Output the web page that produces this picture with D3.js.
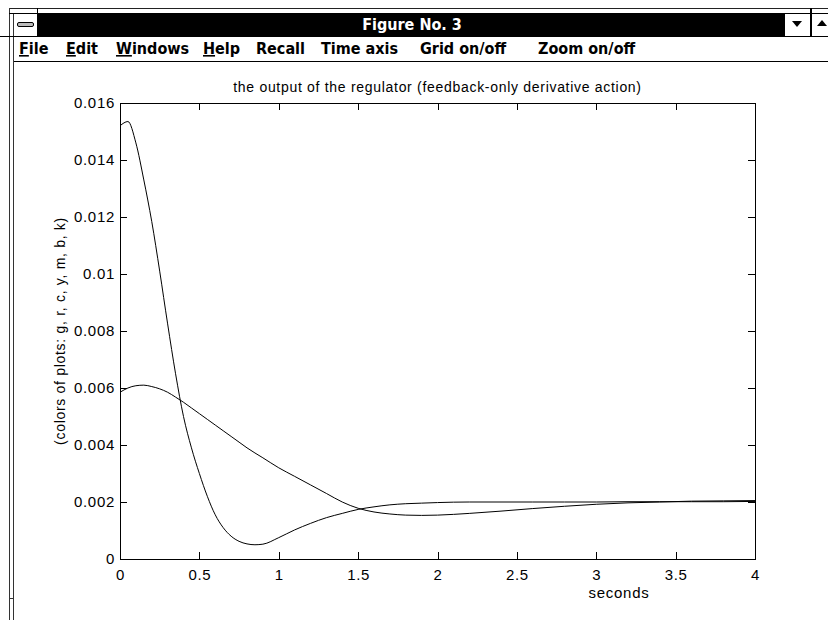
<!DOCTYPE html>
<html>
<head>
<meta charset="utf-8">
<script src="https://cdn.jsdelivr.net/npm/d3@7"></script>
<style>
  body { margin: 0; background: #fff; }
  svg { display: block; }
  .chrome-text { font-family: "Liberation Sans Narrow", "DejaVu Sans Condensed", sans-serif; font-weight: bold; }
  .plot-text { font-family: "Liberation Sans", Arial, sans-serif; fill: #000; letter-spacing: 0.7px; }
</style>
</head>
<body>
<svg id="fig" width="828" height="620"></svg>
<script>
// Regulator output: time axis (seconds) and two responses
const timeSec = [0, 0.05, 0.1, 0.15, 0.2, 0.25, 0.3, 0.35, 0.4, 0.45, 0.5, 0.55, 0.6, 0.65, 0.7, 0.75, 0.8, 0.85, 0.9, 1.0, 1.1, 1.2, 1.3, 1.4, 1.5, 1.6, 1.7, 1.8, 1.9, 2.0, 2.2, 2.4, 2.6, 2.8, 3.0, 3.2, 3.4, 3.6, 3.8, 4.0];
const fastOutput = [0.0152, 0.01535, 0.0146, 0.0133, 0.01184, 0.0101, 0.00825, 0.0065, 0.0050, 0.0039, 0.0030, 0.0022, 0.00155, 0.0011, 0.0008, 0.00062, 0.00053, 0.0005, 0.00052, 0.00075, 0.00102, 0.00125, 0.00145, 0.0016, 0.00174, 0.00183, 0.0019, 0.00194, 0.00196, 0.00198, 0.002, 0.002, 0.002, 0.002, 0.002, 0.00201, 0.00201, 0.00201, 0.00201, 0.00202];
const slowOutput = [0.00585, 0.0060, 0.00608, 0.0061, 0.00605, 0.00597, 0.00585, 0.00568, 0.0055, 0.0053, 0.0051, 0.0049, 0.0047, 0.0045, 0.0043, 0.0041, 0.0039, 0.00372, 0.00355, 0.0032, 0.0029, 0.0026, 0.0023, 0.0020, 0.00178, 0.00165, 0.00158, 0.00154, 0.00153, 0.00154, 0.0016, 0.00168, 0.00177, 0.00185, 0.00192, 0.00197, 0.002, 0.00203, 0.00204, 0.00205];

const xTicks = [0, 0.5, 1, 1.5, 2, 2.5, 3, 3.5, 4];
const xTickLabels = ["0", "0.5", "1", "1.5", "2", "2.5", "3", "3.5", "4"];
const yTicks = [0, 0.002, 0.004, 0.006, 0.008, 0.01, 0.012, 0.014, 0.016];
const yTickLabels = ["0", "0.002", "0.004", "0.006", "0.008", "0.01", "0.012", "0.014", "0.016"];

const menuItems = ["File", "Edit", "Windows", "Help", "Recall", "Time axis", "Grid on/off", "Zoom on/off"];
const menuX = [19, 66, 116, 203, 256, 321, 420, 538];
const menuUnderlined = [true, true, true, true, false, false, false, false];

const windowTitle = "Figure No. 3";
const plotTitle = "the output of the regulator (feedback-only derivative action)";
const xLabel = "seconds";
const yLabel = "(colors of plots: g, r, c, y, m, b, k)";

const svg = d3.select("#fig");

// ---- window frame ----
const frame = svg.append("g").attr("shape-rendering", "crispEdges");
frame.append("line").attr("x1", 9).attr("x2", 828).attr("y1", 8.5).attr("y2", 8.5).attr("stroke", "#222");
frame.append("line").attr("x1", 9.5).attr("x2", 9.5).attr("y1", 8).attr("y2", 620).attr("stroke", "#333").attr("stroke-width", 1.5);
frame.append("line").attr("x1", 13.5).attr("x2", 13.5).attr("y1", 13).attr("y2", 620).attr("stroke", "#333").attr("stroke-width", 1.5);
frame.append("line").attr("x1", 10).attr("x2", 13).attr("y1", 598.5).attr("y2", 598.5).attr("stroke", "#333");
frame.append("rect").attr("x", 38).attr("y", 13).attr("width", 747).attr("height", 23).attr("fill", "#000");
frame.append("line").attr("x1", 9).attr("x2", 828).attr("y1", 13.5).attr("y2", 13.5).attr("stroke", "#000");
frame.append("line").attr("x1", 0).attr("x2", 828).attr("y1", 36.5).attr("y2", 36.5).attr("stroke", "#000");
frame.append("line").attr("x1", 37.5).attr("x2", 37.5).attr("y1", 8).attr("y2", 36).attr("stroke", "#000");
frame.append("line").attr("x1", 810.5).attr("x2", 810.5).attr("y1", 8).attr("y2", 36).attr("stroke", "#000").attr("stroke-width", 2);
frame.append("line").attr("x1", 14).attr("x2", 828).attr("y1", 61.5).attr("y2", 61.5).attr("stroke", "#000");

// control-menu box
svg.append("rect").attr("x", 17.5).attr("y", 22.5).attr("width", 16).attr("height", 4).attr("rx", 1.5)
  .attr("fill", "#bbb").attr("stroke", "#000");
// scroll arrows
svg.append("path").attr("d", "M792,21 L802,21 L797,27 Z").attr("fill", "#000");
svg.append("path").attr("d", "M817,26 L827,26 L822,20 Z").attr("fill", "#000");

svg.append("text").attr("class", "chrome-text")
  .attr("x", 412).attr("y", 30).attr("text-anchor", "middle")
  .attr("font-size", 16).attr("fill", "#fff").text(windowTitle);

const menu = svg.append("g").attr("class", "chrome-text").attr("font-size", 16);
menuItems.forEach((m, i) => {
  const t = menu.append("text").attr("x", menuX[i]).attr("y", 54).attr("fill", "#000");
  if (menuUnderlined[i]) {
    t.append("tspan").attr("text-decoration", "underline").text(m[0]);
    t.append("tspan").text(m.slice(1));
  } else {
    t.text(m);
  }
});

// ---- plot ----
const x = d3.scaleLinear().domain([0, 4]).range([120, 755]);
const y = d3.scaleLinear().domain([0, 0.016]).range([559, 103]);

const axisStyle = g => {
  g.selectAll("path, line").attr("stroke", "#000").attr("shape-rendering", "crispEdges");
  g.selectAll("text").attr("class", "plot-text").attr("font-size", 15).attr("fill", "#000");
  g.attr("font-family", null).attr("font-size", null);
};

svg.append("g").attr("transform", `translate(0,${y(0)})`)
  .call(d3.axisBottom(x).tickValues(xTicks).tickFormat((d, i) => xTickLabels[i])
    .tickSizeInner(-7).tickSizeOuter(0).tickPadding(10))
  .call(axisStyle);
svg.append("g").attr("transform", `translate(0,${y(0.016)})`)
  .call(d3.axisTop(x).tickValues(xTicks).tickFormat("").tickSizeInner(-7).tickSizeOuter(0))
  .call(axisStyle);
svg.append("g").attr("transform", `translate(${x(0)},0)`)
  .call(d3.axisLeft(y).tickValues(yTicks).tickFormat((d, i) => yTickLabels[i])
    .tickSizeInner(-7).tickSizeOuter(0).tickPadding(5))
  .call(axisStyle);
svg.append("g").attr("transform", `translate(${x(4)},0)`)
  .call(d3.axisRight(y).tickValues(yTicks).tickFormat("").tickSizeInner(-7).tickSizeOuter(0))
  .call(axisStyle);

const line = d3.line().x(d => x(d[0])).y(d => y(d[1])).curve(d3.curveMonotoneX);
[fastOutput, slowOutput].forEach(series => {
  svg.append("path")
    .attr("d", line(timeSec.map((t, i) => [t, series[i]])))
    .attr("fill", "none").attr("stroke", "#000").attr("stroke-width", 1);
});

svg.append("text").attr("class", "plot-text").attr("font-size", 14)
  .attr("x", (x(0) + x(4)) / 2).attr("y", 92).attr("text-anchor", "middle").text(plotTitle);
svg.append("text").attr("class", "plot-text").attr("font-size", 15)
  .attr("x", 619).attr("y", 598).attr("text-anchor", "middle").text(xLabel);
svg.append("text").attr("class", "plot-text").attr("font-size", 14)
  .attr("transform", `translate(65,${(y(0) + y(0.016)) / 2}) rotate(-90)`)
  .attr("text-anchor", "middle").text(yLabel);
</script>
</body>
</html>
